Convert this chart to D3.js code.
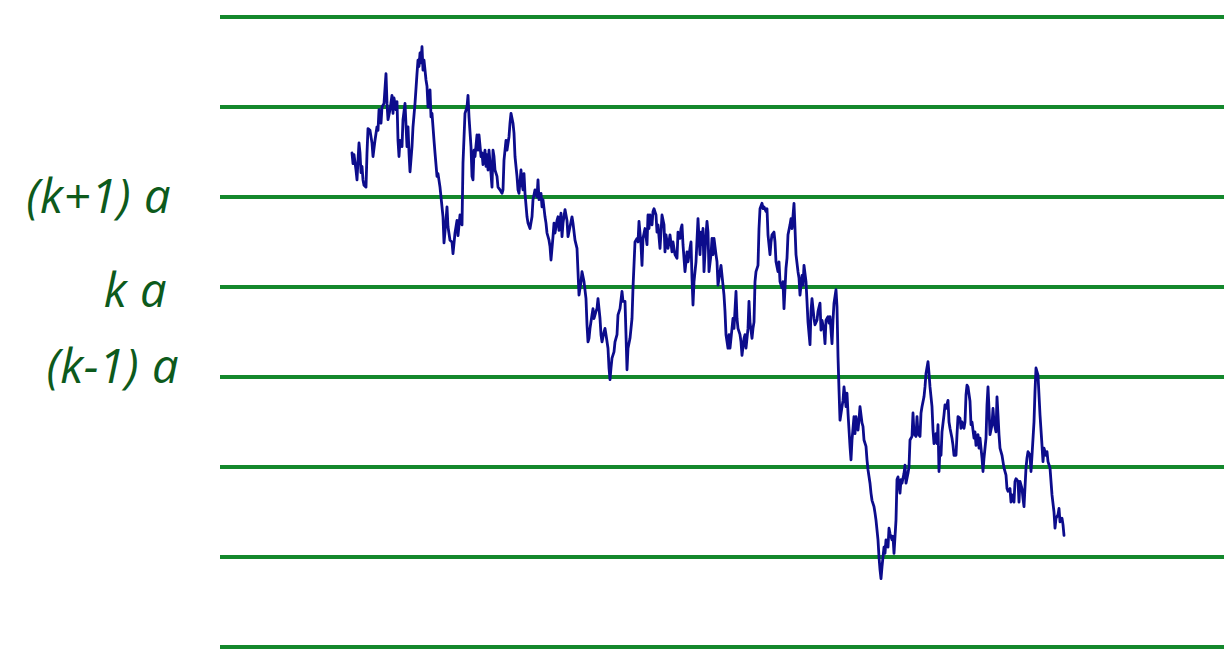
<!DOCTYPE html>
<html>
<head>
<meta charset="utf-8">
<script src="https://cdn.jsdelivr.net/npm/d3@7"></script>
<style>
  html, body { margin: 0; padding: 0; background: #ffffff; }
  svg { display: block; }
</style>
</head>
<body>
<svg id="chart" width="1224" height="650"></svg>
<script>
// Grid levels, in units of a, relative to k·a
const levels = [-4, -3, -2, -1, 0, 1, 2, 3];
const labelLevels = [1, 0, -1];
const labelTexts = ["(k+1) a", "k a", "(k-1) a"];

// Random-walk path: [time step, position in units of a relative to k·a]
const walk = [
[0,1.49],[1,1.37],[2,1.47],[4,1.30],[5,1.19],[6,1.41],[7,1.60],[8,1.49],[9,1.27],[10,1.34],
[11,1.19],[12,1.13],[14,1.11],[15,1.49],[16,1.76],[18,1.74],[20,1.60],[21,1.45],[23,1.63],[25,1.78],
[26,1.74],[27,1.97],[29,1.82],[30,2.00],[32,2.04],[34,2.37],[35,2.04],[36,1.86],[38,1.97],[40,2.13],
[41,1.93],[42,2.10],[44,1.97],[45,2.06],[46,1.63],[47,1.45],[48,1.63],[50,1.56],[51,1.86],[53,2.04],
[55,1.56],[56,1.78],[57,1.49],[58,1.28],[60,1.56],[61,1.78],[63,2.04],[65,2.37],[66,2.52],[67,2.45],
[68,2.60],[69,2.49],[70,2.67],[71,2.41],[72,2.52],[74,2.30],[75,2.23],[76,2.00],[78,2.19],[79,1.89],
[80,1.93],[82,1.63],[83,1.49],[85,1.23],[86,1.26],[88,1.11],[90,0.89],[91,0.78],[92,0.49],[94,0.74],
[95,0.89],[96,0.67],[98,0.52],[100,0.50],[101,0.37],[103,0.60],[105,0.74],[106,0.57],[108,0.80],[110,0.69],
[111,1.38],[113,1.93],[115,2.00],[116,2.13],[117,1.89],[119,1.56],[120,1.23],[121,1.19],[122,1.52],[123,1.45],
[125,1.69],[126,1.52],[127,1.69],[129,1.45],[130,1.49],[131,1.36],[133,1.52],[134,1.34],[135,1.47],[136,1.30],
[137,1.52],[139,1.26],[140,1.11],[141,1.52],[142,1.45],[143,1.30],[145,1.23],[146,1.11],[148,1.08],[150,1.04],
[151,1.08],[152,1.41],[154,1.63],[155,1.52],[157,1.67],[158,1.82],[159,1.93],[161,1.82],[162,1.71],[163,1.45],
[165,1.23],[166,1.08],[167,1.04],[169,1.30],[170,1.15],[171,1.08],[172,1.26],[173,1.04],[175,0.78],[176,0.71],
[178,0.65],[180,0.78],[181,0.97],[183,1.08],[185,1.00],[186,1.19],[187,0.97],[189,1.04],[190,0.89],[191,0.97],
[193,0.78],[194,0.71],[195,0.60],[197,0.52],[198,0.45],[199,0.30],[201,0.56],[202,0.71],[203,0.60],[205,0.74],
[206,0.78],[207,0.63],[209,0.82],[210,0.56],[211,0.71],[213,0.86],[215,0.74],[216,0.56],[218,0.67],[220,0.78],
[221,0.71],[223,0.52],[225,0.43],[226,0.17],[227,-0.09],[229,0.06],[230,0.17],[232,0.06],[234,-0.13],[235,-0.42],
[236,-0.61],[237,-0.57],[238,-0.46],[240,-0.31],[241,-0.24],[242,-0.35],[244,-0.27],[245,-0.24],[246,-0.13],[248,-0.35],
[249,-0.53],[250,-0.61],[252,-0.50],[253,-0.46],[254,-0.53],[256,-0.68],[257,-0.90],[258,-1.03],[259,-0.90],[260,-0.79],
[262,-0.72],[263,-0.61],[265,-0.53],[266,-0.31],[268,-0.24],[270,-0.05],[271,-0.16],[273,-0.16],[274,-0.53],[275,-0.92],
[276,-0.68],[278,-0.57],[280,-0.35],[281,-0.01],[283,0.50],[285,0.54],[286,0.50],[287,0.73],[289,0.47],[290,0.24],
[291,0.54],[293,0.65],[295,0.47],[296,0.80],[297,0.65],[298,0.80],[300,0.69],[301,0.84],[302,0.87],[304,0.80],
[305,0.61],[306,0.69],[308,0.43],[309,0.61],[310,0.80],[312,0.69],[313,0.39],[314,0.58],[316,0.43],[317,0.50],
[318,0.58],[320,0.39],[321,0.50],[323,0.36],[325,0.32],[326,0.61],[328,0.54],[329,0.65],[330,0.69],[331,0.47],
[333,0.17],[335,0.39],[336,0.28],[338,0.43],[339,0.50],[340,0.10],[341,-0.20],[342,0.06],[344,0.28],[346,0.76],
[347,0.54],[348,0.36],[349,0.61],[350,0.47],[351,0.65],[352,0.17],[354,0.58],[355,0.73],[356,0.61],[357,0.17],
[359,0.36],[360,0.54],[361,0.36],[362,0.54],[364,0.36],[365,0.28],[366,0.02],[368,0.17],[369,0.24],[370,0.13],
[372,-0.09],[373,-0.27],[374,-0.53],[376,-0.68],[377,-0.53],[378,-0.68],[380,-0.46],[381,-0.35],[382,-0.46],[384,-0.05],
[385,-0.35],[386,-0.46],[388,-0.53],[389,-0.61],[390,-0.76],[392,-0.57],[393,-0.53],[394,-0.68],[396,-0.46],[397,-0.16],
[398,-0.39],[400,-0.57],[401,-0.46],[402,-0.39],[403,0.06],[404,0.17],[406,0.24],[407,0.65],[408,0.87],[410,0.93],
[411,0.87],[412,0.89],[414,0.84],[415,0.87],[416,0.58],[418,0.36],[419,0.50],[420,0.58],[422,0.61],[423,0.50],
[424,0.28],[426,0.17],[427,0.28],[428,0.06],[430,-0.01],[431,0.06],[432,-0.24],[434,0.21],[435,0.32],[436,0.58],
[438,0.69],[439,0.76],[440,0.65],[442,0.93],[443,0.65],[444,0.36],[446,0.17],[447,0.10],[448,-0.09],[450,0.13],
[451,0.02],[452,0.24],[454,0.06],[455,-0.16],[456,-0.39],[458,-0.64],[459,-0.27],[460,-0.13],[462,-0.35],[463,-0.42],
[465,-0.37],[466,-0.27],[468,-0.18],[469,-0.48],[470,-0.37],[472,-0.48],[473,-0.63],[474,-0.37],[476,-0.33],[477,-0.40],
[478,-0.33],[480,-0.63],[481,-0.37],[482,-0.18],[484,-0.03],[485,-0.22],[486,-0.77],[487,-1.14],[488,-1.48],[490,-1.33],
[491,-1.26],[492,-1.11],[494,-1.33],[495,-1.18],[496,-1.40],[498,-1.77],[499,-1.92],[500,-1.70],[502,-1.44],[503,-1.63],
[504,-1.44],[506,-1.59],[507,-1.48],[508,-1.33],[510,-1.51],[511,-1.55],[512,-1.70],[514,-1.77],[515,-1.92],[516,-2.03],
[518,-2.18],[519,-2.29],[520,-2.37],[522,-2.44],[523,-2.51],[524,-2.59],[526,-2.81],[527,-3.00],[528,-3.14],[529,-3.24],
[530,-3.11],[532,-2.89],[533,-2.96],[534,-2.81],[536,-2.89],[537,-2.68],[538,-2.74],[540,-2.81],[541,-2.77],[542,-2.96],
[544,-2.59],[545,-2.14],[546,-2.11],[548,-2.29],[549,-2.14],[550,-2.18],[552,-2.07],[553,-1.98],[554,-2.18],[556,-2.07],
[557,-2.00],[558,-1.70],[560,-1.66],[561,-1.40],[562,-1.63],[564,-1.66],[565,-1.44],[566,-1.63],[568,-1.66],[569,-1.40],
[570,-1.33],[572,-1.22],[573,-1.11],[574,-0.96],[576,-0.83],[577,-0.96],[578,-1.11],[580,-1.33],[581,-1.59],[582,-1.74],
[584,-1.63],[585,-1.74],[586,-1.53],[587,-2.05],[588,-1.79],[589,-1.87],[590,-1.61],[592,-1.42],[593,-1.31],[594,-1.35],
[596,-1.26],[597,-1.50],[598,-1.57],[600,-1.68],[601,-1.76],[602,-1.87],[604,-1.87],[605,-1.64],[606,-1.44],[608,-1.46],
[609,-1.57],[610,-1.50],[612,-1.57],[613,-1.50],[614,-1.20],[615,-1.09],[616,-1.11],[618,-1.27],[619,-1.53],[620,-1.50],
[622,-1.68],[623,-1.61],[624,-1.76],[626,-1.64],[627,-1.79],[628,-1.68],[630,-1.90],[631,-2.05],[632,-1.90],[634,-1.68],
[635,-1.31],[636,-1.11],[637,-1.35],[638,-1.64],[640,-1.53],[641,-1.35],[642,-1.50],[644,-1.61],[645,-1.22],[646,-1.42],
[647,-1.64],[648,-1.79],[650,-1.87],[651,-1.94],[652,-2.01],[654,-2.09],[655,-2.24],[656,-2.27],[658,-2.24],[659,-2.39],
[660,-2.31],[662,-2.39],[663,-2.16],[664,-2.13],[666,-2.16],[667,-2.39],[668,-2.16],[670,-2.24],[671,-2.35],[672,-2.44],
[674,-2.01],[675,-1.90],[676,-1.83],[678,-1.87],[679,-2.05],[680,-1.87],[682,-1.50],[683,-1.16],[684,-0.90],[686,-0.98],
[687,-1.20],[688,-1.42],[690,-1.76],[691,-1.94],[692,-1.79],[694,-1.87],[695,-1.83],[696,-1.94],[698,-2.01],[699,-2.16],
[700,-2.31],[702,-2.50],[703,-2.68],[704,-2.57],[706,-2.53],[707,-2.46],[708,-2.61],[710,-2.57],[711,-2.64],[712,-2.76]
];

// Time window shown and position window shown
const timeDomain = [-132, 872];
const posDomain = [-4, 3];

const plot = { left: 220, right: 1224, top: 17, bottom: 647 };
// label layout (right edge x, baseline shift below its level line)
const labelLayout = [ { xEnd: 171, dy: 16 }, { xEnd: 167, dy: 20 }, { xEnd: 179, dy: 6 } ];

const svg = d3.select("#chart");

const x = d3.scaleLinear().domain(timeDomain).range([plot.left, plot.right]);
const y = d3.scaleLinear().domain(posDomain).range([plot.bottom, plot.top]);

// Horizontal level lines
svg.append("g")
  .selectAll("line")
  .data(levels)
  .join("line")
  .attr("x1", x(timeDomain[0]))
  .attr("x2", x(timeDomain[1]))
  .attr("y1", d => y(d))
  .attr("y2", d => y(d))
  .attr("stroke", "#14882c")
  .attr("stroke-width", 4.2);

// Level labels
svg.append("g")
  .selectAll("text")
  .data(labelLevels.map((lv, i) => ({ lv, text: labelTexts[i], lay: labelLayout[i] })))
  .join("text")
  .attr("x", d => d.lay.xEnd)
  .attr("y", d => y(d.lv) + d.lay.dy)
  .attr("text-anchor", "end")
  .attr("font-family", "'Open Sans', 'Noto Sans', sans-serif")
  .attr("font-style", "italic")
  .attr("font-weight", 500)
  .attr("font-size", 47)
  .attr("fill", "#0d5a1c")
  .attr("letter-spacing", 0.5)
  .attr("xml:space", "preserve")
  .text(d => d.text);

// Random walk path
const line = d3.line()
  .x(d => x(d[0]))
  .y(d => y(d[1]));

svg.append("path")
  .datum(walk)
  .attr("d", line)
  .attr("fill", "none")
  .attr("stroke", "#0c0c8c")
  .attr("stroke-width", 2.8)
  .attr("stroke-linejoin", "round")
  .attr("stroke-linecap", "round");
</script>
</body>
</html>
